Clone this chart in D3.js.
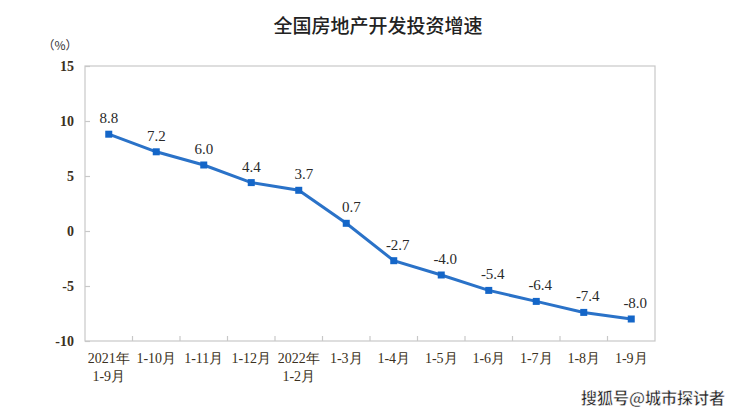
<!DOCTYPE html>
<html><head><meta charset="utf-8">
<script src="https://cdn.jsdelivr.net/npm/d3@7"></script>
<style>body{margin:0;background:#fff}</style>
</head><body>
<svg id="c" width="739" height="415"></svg>
<script>
const categories = [["2021年","1-9月"],["1-10月"],["1-11月"],["1-12月"],["2022年","1-2月"],["1-3月"],["1-4月"],["1-5月"],["1-6月"],["1-7月"],["1-8月"],["1-9月"]];
const values = [8.8,7.2,6.0,4.4,3.7,0.7,-2.7,-4.0,-5.4,-6.4,-7.4,-8.0];
const yTicks = [15,10,5,0,-5,-10];
const title = "全国房地产开发投资增速";
const unit = "（%）";
const watermark = "搜狐号@城市探讨者";

const svg = d3.select("#c");
const L=85,R=655,T=66,B=341;
const x = d3.scaleBand().domain(d3.range(categories.length)).range([L,R]);
const y = d3.scaleLinear().domain([-10,15]).range([B,T]);
const serif = "'Liberation Serif','DejaVu Serif',serif";
const cjk = "'Noto Sans CJK SC',sans-serif";

svg.append("text").attr("x",378).attr("y",33).attr("text-anchor","middle")
  .attr("font-family",cjk).attr("font-size",19).attr("font-weight",500).attr("fill","#222").text(title);
svg.append("text").attr("x",60).attr("y",50).attr("text-anchor","middle")
  .attr("font-family",cjk).attr("font-size",12).attr("fill","#333").text(unit);

// frame
svg.append("rect").attr("x",L).attr("y",T).attr("width",R-L).attr("height",B-T)
  .attr("fill","none").attr("stroke","#c8c8c8").attr("stroke-width",1.2);

// y axis
const ya = svg.append("g").attr("transform",`translate(${L},0)`)
  .call(d3.axisLeft(y).tickValues(yTicks).tickSize(-5).tickPadding(11).tickFormat(d=>String(d)));
ya.select(".domain").remove();
ya.selectAll("line").attr("stroke","#c8c8c8").attr("stroke-width",1.2);
ya.selectAll("text").attr("font-family",serif).attr("font-size",14).attr("font-weight","bold").attr("fill","#3a3020");

// x ticks between categories
const xa = svg.append("g").attr("transform",`translate(0,${B})`);
xa.selectAll("line").data(d3.range(1,categories.length)).join("line")
  .attr("x1",i=>x(i)).attr("x2",i=>x(i)).attr("y1",0).attr("y2",-5)
  .attr("stroke","#c8c8c8").attr("stroke-width",1.2);
const xl = xa.selectAll("text").data(categories).join("text")
  .attr("x",(d,i)=>x(i)+x.bandwidth()/2).attr("y",22).attr("text-anchor","middle")
  .attr("font-family",serif).attr("font-size",14).attr("fill","#3a3020");
xl.selectAll("tspan").data(d=>d).join("tspan")
  .attr("x",function(){return this.parentNode.getAttribute("x");})
  .attr("dy",(d,i)=>i?18:0).text(d=>d);

// line
const cx = i=>x(i)+x.bandwidth()/2;
svg.append("path").datum(values)
  .attr("d",d3.line().x((d,i)=>cx(i)).y(d=>y(d)))
  .attr("fill","none").attr("stroke","#2a72c8").attr("stroke-width",3);
svg.selectAll("rect.m").data(values).join("rect").attr("class","m")
  .attr("x",(d,i)=>cx(i)-3.5).attr("y",d=>y(d)-3.5).attr("width",7).attr("height",7)
  .attr("fill","#1466c8");
svg.selectAll("text.lab").data(values).join("text").attr("class","lab")
  .attr("x",(d,i)=>cx(i)+(d<0?4:(i===4||i===5?5:0))).attr("y",d=>y(d)-11)
  .attr("text-anchor","middle").attr("font-family",serif).attr("font-size",15).attr("fill","#2a2a2a")
  .text(d=>d.toFixed(1));

svg.append("text").attr("x",725).attr("y",404).attr("text-anchor","end")
  .attr("font-family",cjk).attr("font-size",16).attr("font-weight","bold")
  .attr("fill","#222").attr("stroke","#fff").attr("stroke-width",0.5).text(watermark);
</script>
</body></html>
